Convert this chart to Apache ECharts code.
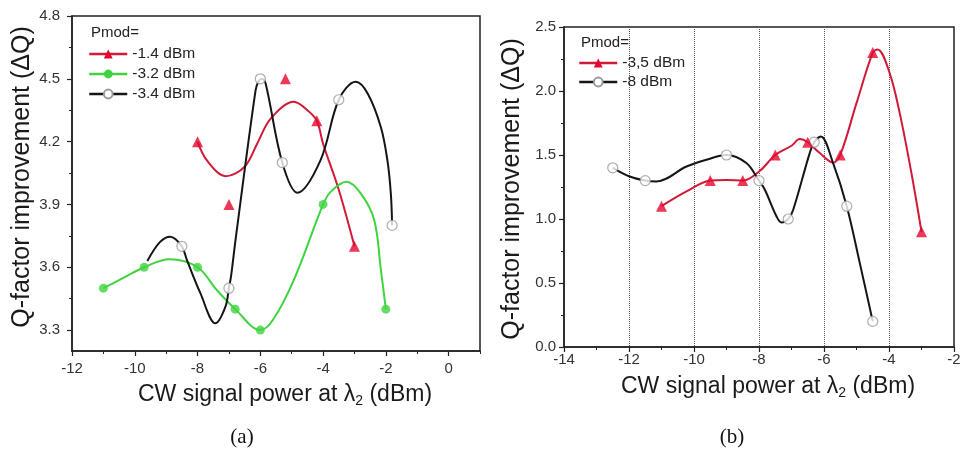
<!DOCTYPE html>
<html><head><meta charset="utf-8">
<script src="https://cdn.jsdelivr.net/npm/echarts@6/dist/echarts.min.js"></script>
<style>html,body{margin:0;padding:0;background:#fff}#c{width:966px;height:451px}</style>
</head><body><div id="c"></div>
<script>
// ---------- Panel (a) ----------
const aXLabels = [-12, -10, -8, -6, -4, -2, 0];
const aYLabels = [3.3, 3.6, 3.9, 4.2, 4.5, 4.8];
const aYMinor = [3.45, 3.75, 4.05, 4.35, 4.65];
// markers
const aRedX = [-8, -7, -5.2, -4.2, -3];
const aRedY = [4.2, 3.9, 4.5, 4.3, 3.7];
const aGreenX = [-11, -9.7, -8, -6.8, -6, -4, -2];
const aGreenY = [3.5, 3.6, 3.6, 3.4, 3.3, 3.9, 3.4];
const aBlackX = [-8.5, -7, -6, -5.3, -3.5, -1.8];
const aBlackY = [3.7, 3.5, 4.5, 4.1, 4.4, 3.8];
// drawn curves
const aRedCurveX = [-8, -7.7, -7.1, -6.5, -6.1, -5.67, -4.93, -4.5, -4.2, -4.0, -3.5, -3];
const aRedCurveY = [4.2, 4.11, 4.035, 4.08, 4.19, 4.31, 4.39, 4.35, 4.3, 4.19, 3.97, 3.7];
const aGreenCurveX = [-11, -10.35, -9.7, -8.9, -8, -7.38, -6.8, -6, -5.6, -4.93, -4, -3.76, -3.26, -2.8, -2.37, -2.16, -2];
const aGreenCurveY = [3.5, 3.55, 3.6, 3.638, 3.6, 3.49, 3.4, 3.3, 3.348, 3.54, 3.9, 3.96, 4.008, 3.953, 3.826, 3.59, 3.4];
const aBlackCurveX = [-9.6, -9.2, -8.87, -8.5, -8.34, -7.91, -7.43, -7.11, -7, -6.93, -6.79, -6.15, -6.05, -5.95, -5.83, -5.3, -4.82, -4.08, -3.5, -2.96, -2.58, -2.16, -1.95, -1.84, -1.8];
const aBlackCurveY = [3.63, 3.72, 3.746, 3.7, 3.635, 3.476, 3.332, 3.412, 3.5, 3.56, 3.73, 4.446, 4.49, 4.5, 4.478, 4.1, 3.956, 4.112, 4.4, 4.486, 4.43, 4.27, 4.11, 3.95, 3.8];

// ---------- Panel (b) ----------
const bRedX = [-11, -9.5, -8.5, -7.5, -6.5, -5.5, -4.5, -3];
const bRedY = [1.1, 1.3, 1.3, 1.5, 1.6, 1.5, 2.3, 0.9];
const bBlackX = [-12.5, -11.5, -9, -8, -7.1, -6.3, -5.3, -4.5];
const bBlackY = [1.4, 1.3, 1.5, 1.3, 1.0, 1.6, 1.1, 0.2];
const bRedCurveX = [-11, -10.23, -9.5, -9, -8.5, -7.98, -7.5, -7, -6.75, -6.5, -6.13, -5.72, -5.5, -5, -4.5, -4.35, -3.98, -3.67, -3.31, -3];
const bRedCurveY = [1.1, 1.215, 1.3, 1.305, 1.3, 1.375, 1.5, 1.572, 1.625, 1.6, 1.515, 1.44, 1.5, 1.905, 2.3, 2.325, 2.14, 1.827, 1.359, 0.9];
const bBlackCurveX = [-12.5, -11.98, -11.5, -11.16, -10.23, -9.62, -9, -8.39, -8, -7.82, -7.46, -7.31, -7.1, -6.95, -6.44, -6.3, -6.1, -5.72, -5.3, -4.9, -4.5];
const bBlackCurveY = [1.4, 1.332, 1.3, 1.293, 1.41, 1.463, 1.5, 1.437, 1.3, 1.229, 1.02, 0.973, 1.0, 1.07, 1.515, 1.6, 1.644, 1.437, 1.1, 0.657, 0.2];

const FONT = '"Liberation Sans", Arial, sans-serif';
const RED_LINE = '#d11a38', RED_MK = '#e5062e';
const GREEN = '#3fd43f', BLACK = '#151515';
const pts = (xs, ys) => xs.map((x, i) => [x, ys[i]]);

function axisBase(extra) {
  return Object.assign({
    type: 'value',
    axisLine: { show: true, onZero: false, lineStyle: { color: '#222', width: 1.5 } },
    axisTick: { show: true, inside: false, length: 5, lineStyle: { color: '#222', width: 1.2 } },
    axisLabel: { color: '#333', fontSize: 15, fontFamily: FONT },
    splitLine: { show: false }
  }, extra);
}
function minorAxis(extra, tickExtra) {
  return Object.assign({
    type: 'value',
    axisLine: { show: false, onZero: false },
    axisTick: Object.assign({ show: true, inside: false, length: 3, lineStyle: { color: '#222', width: 1 } }, tickExtra || {}),
    axisLabel: { show: false },
    splitLine: { show: false }
  }, extra);
}

function lineSeries(name, xs, ys, lineColor, symbol, itemStyle, xi, yi) {
  return {
    type: 'line', name, data: pts(xs, ys), xAxisIndex: xi, yAxisIndex: yi,
    smooth: 0.35, showSymbol: false, symbol, symbolSize: 10,
    lineStyle: { color: lineColor, width: 2 }, itemStyle,
    z: 2, silent: true
  };
}
function markSeries(name, xs, ys, symbol, size, itemStyle, xi, yi) {
  return {
    type: 'scatter', name: name + ' pts', data: pts(xs, ys), xAxisIndex: xi, yAxisIndex: yi,
    symbol, symbolSize: size, itemStyle, z: 3, silent: true
  };
}

const redStyle = { color: RED_MK };
const greenStyle = { color: GREEN };
const openStyle = { color: '#fff', borderColor: '#9a9a9a', borderWidth: 1.2 };
const legendCommon = { orient: 'vertical', padding: 0, itemWidth: 38, itemHeight: 11, selectedMode: false,
  lineStyle: { width: 2.5 },
  textStyle: { fontSize: 15.5, color: '#222', fontFamily: FONT } };

const titleRich = { a: { fontSize: 23, fontFamily: FONT, fill: '#1a1a1a', lineHeight: 27 },
  s: { fontSize: 14, fontFamily: FONT, fill: '#1a1a1a', lineHeight: 14, verticalAlign: 'bottom' } };

const option = {
  animation: false,
  backgroundColor: '#fff',
  grid: [
    { left: 72, top: 16, width: 408, height: 335, show: true, borderColor: '#222', borderWidth: 1.5 },
    { left: 564, top: 27, width: 390, height: 320, show: true, borderColor: '#222', borderWidth: 1.5 }
  ],
  xAxis: [
    axisBase({ gridIndex: 0, min: -12, max: 1, position: 'bottom',
      axisTick: { show: true, length: 5, customValues: aXLabels, lineStyle: { color: '#222', width: 1.2 } },
      axisLabel: { customValues: aXLabels, color: '#333', fontSize: 15, fontFamily: FONT, margin: 10 } }),
    minorAxis({ gridIndex: 0, min: -12, max: 1, interval: 1, position: 'bottom' }),
    axisBase({ gridIndex: 1, min: -14, max: -2, interval: 2, position: 'bottom',
      axisLabel: { color: '#333', fontSize: 15, fontFamily: FONT, margin: 5 },
      splitLine: { show: true, lineStyle: { type: 'dotted', color: '#555', width: 1 } } }),
    minorAxis({ gridIndex: 1, min: -14, max: -2, interval: 1, position: 'bottom' })
  ],
  yAxis: [
    axisBase({ gridIndex: 0, min: 3.2, max: 4.8, position: 'left',
      axisTick: { show: true, length: 5, customValues: aYLabels, lineStyle: { color: '#222', width: 1.2 } },
      axisLabel: { customValues: aYLabels, color: '#333', fontSize: 15, fontFamily: FONT, margin: 12,
        formatter: v => Number(v).toFixed(1) } }),
    minorAxis({ gridIndex: 0, min: 3.2, max: 4.8, position: 'left' }, { customValues: aYMinor }),
    axisBase({ gridIndex: 1, min: 0, max: 2.5, interval: 0.5, position: 'left',
      axisLabel: { color: '#333', fontSize: 15, fontFamily: FONT, margin: 8, formatter: v => Number(v).toFixed(1) } }),
    minorAxis({ gridIndex: 1, min: 0, max: 2.5, interval: 0.25, position: 'left' })
  ],
  legend: [
    Object.assign({ data: ['-1.4 dBm', '-3.2 dBm', '-3.4 dBm'], left: 88, top: 46, itemGap: 4 }, legendCommon),
    Object.assign({ data: ['-3,5 dBm', '-8 dBm'], left: 578, top: 55, itemGap: 3 }, legendCommon)
  ],
  series: [
    lineSeries('-1.4 dBm', aRedCurveX, aRedCurveY, RED_LINE, 'triangle', redStyle, 0, 0),
    lineSeries('-3.2 dBm', aGreenCurveX, aGreenCurveY, GREEN, 'circle', greenStyle, 0, 0),
    lineSeries('-3.4 dBm', aBlackCurveX, aBlackCurveY, BLACK, 'circle', openStyle, 0, 0),
    markSeries('-3.4 dBm', aBlackX, aBlackY, 'circle', 10, openStyle, 0, 0),
    markSeries('-1.4 dBm', aRedX, aRedY, 'triangle', 11, redStyle, 0, 0),
    markSeries('-3.2 dBm', aGreenX, aGreenY, 'circle', 9, greenStyle, 0, 0),
    lineSeries('-3,5 dBm', bRedCurveX, bRedCurveY, RED_LINE, 'triangle', redStyle, 2, 2),
    lineSeries('-8 dBm', bBlackCurveX, bBlackCurveY, BLACK, 'circle', openStyle, 2, 2),
    markSeries('-8 dBm', bBlackX, bBlackY, 'circle', 10, openStyle, 2, 2),
    markSeries('-3,5 dBm', bRedX, bRedY, 'triangle', 11, redStyle, 2, 2)
  ],
  graphic: [
    { type: 'text', x: 91, y: 33, style: { text: 'Pmod=', fontSize: 15, fontFamily: FONT, fill: '#222', align: 'left', verticalAlign: 'middle' } },
    { type: 'text', x: 581, y: 43, style: { text: 'Pmod=', fontSize: 15, fontFamily: FONT, fill: '#222', align: 'left', verticalAlign: 'middle' } },
    { type: 'text', x: 22, y: 177, rotation: Math.PI / 2, style: { text: 'Q-factor improvement (ΔQ)', fontSize: 25, fontFamily: FONT, fill: '#1a1a1a', align: 'center', verticalAlign: 'middle' } },
    { type: 'text', x: 512, y: 189, rotation: Math.PI / 2, style: { text: 'Q-factor improvement (ΔQ)', fontSize: 25, fontFamily: FONT, fill: '#1a1a1a', align: 'center', verticalAlign: 'middle' } },
    { type: 'text', x: 285, y: 395, style: { text: '{a|CW signal power at λ}{s|2}{a| (dBm)}', align: 'center', verticalAlign: 'middle', rich: titleRich } },
    { type: 'text', x: 768, y: 387, style: { text: '{a|CW signal power at λ}{s|2}{a| (dBm)}', align: 'center', verticalAlign: 'middle', rich: titleRich } },
    { type: 'text', x: 242, y: 437, style: { text: '(a)', fontSize: 21, fontFamily: '"Liberation Serif", "DejaVu Serif", serif', fill: '#111', align: 'center', verticalAlign: 'middle' } },
    { type: 'text', x: 732, y: 437, style: { text: '(b)', fontSize: 21, fontFamily: '"Liberation Serif", "DejaVu Serif", serif', fill: '#111', align: 'center', verticalAlign: 'middle' } }
  ]
};
const chart = echarts.init(document.getElementById('c'), null, { renderer: 'canvas' });
chart.setOption(option);
</script></body></html>
